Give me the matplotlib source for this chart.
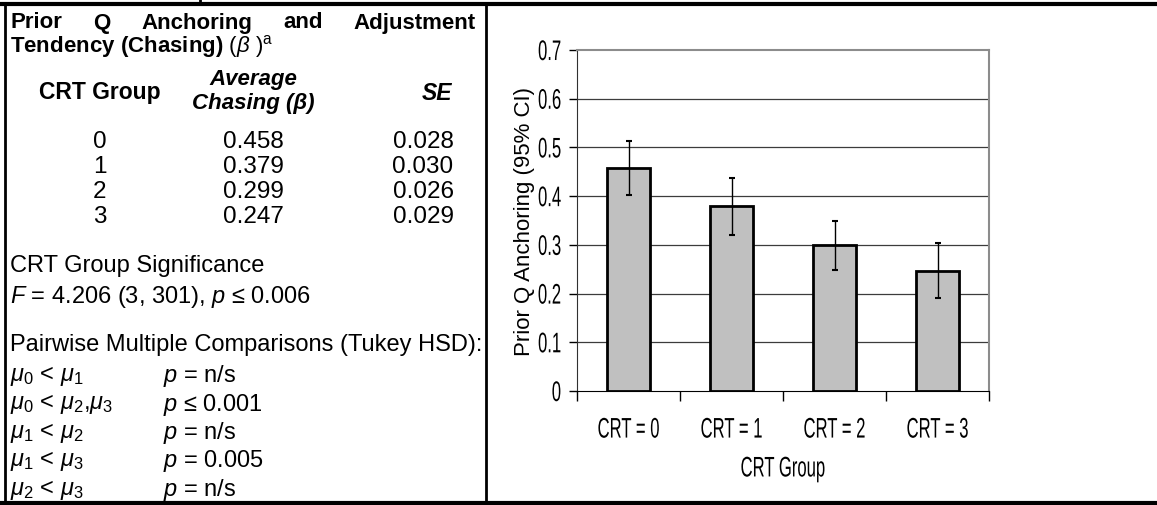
import matplotlib
matplotlib.use('Agg')
import matplotlib.pyplot as plt
from matplotlib.lines import Line2D
from matplotlib.patheffects import AbstractPathEffect
from matplotlib.transforms import Affine2D
import numpy as np

groups = ['0', '1', '2', '3']
avg_chasing = [0.458, 0.379, 0.299, 0.247]
se = [0.028, 0.030, 0.026, 0.029]
se_labels = ['0.028', '0.030', '0.026', '0.029']
categories = ['CRT = 0', 'CRT = 1', 'CRT = 2', 'CRT = 3']
comparisons = [r'$\mu_0$ < $\mu_1$', r'$\mu_0$ < $\mu_2$,$\mu_3$', r'$\mu_1$ < $\mu_2$',
               r'$\mu_1$ < $\mu_3$', r'$\mu_2$ < $\mu_3$']
p_values = [r'$p$ = n/s', r'$p$ ≤ 0.001', r'$p$ = n/s', r'$p$ = 0.005', r'$p$ = n/s']
yticks = [0, 0.1, 0.2, 0.3, 0.4, 0.5, 0.6, 0.7]
ytick_labels = ['0', '0.1', '0.2', '0.3', '0.4', '0.5', '0.6', '0.7']

# 95% CI half width from the SE column
ci = [1.96 * s for s in se]

plt.rcParams['font.family'] = ['Liberation Sans', 'DejaVu Sans']
plt.rcParams['mathtext.fontset'] = 'custom'
plt.rcParams['mathtext.rm'] = 'Liberation Sans'
plt.rcParams['mathtext.it'] = 'Liberation Sans:italic'
plt.rcParams['mathtext.bf'] = 'Liberation Sans:bold'


class Stretch(AbstractPathEffect):
    # make glyphs taller around their middle -> narrow "Arial Narrow" look
    def __init__(self, sy=1.5):
        super().__init__()
        self.sy = sy

    def draw_path(self, renderer, gc, tpath, affine, rgbFace=None):
        ext = tpath.get_extents()
        cy = 0.5 * (ext.y0 + ext.y1)
        st = Affine2D().translate(0, -cy).scale(1, self.sy).translate(0, cy)
        renderer.draw_path(gc, tpath, st + affine, rgbFace)


W, H = 1157, 506
fig = plt.figure(figsize=(W / 100, H / 100), dpi=100)


def fx(px):
    return px / W


def fy(py):
    return 1 - py / H


def ftext(x, y, s, **kw):
    kw.setdefault('va', 'center')
    kw.setdefault('fontsize', 17)
    return fig.text(fx(x), fy(y), s, **kw)


# table frame
for xs, ys, lw in [((0, W), (5, 5), 3), ((0, W), (504, 504), 3),
                   ((5, 5), (5, 506), 2), ((486, 486), (5, 506), 2),
                   ((200, 200), (0, 5), 2)]:
    fig.add_artist(Line2D([fx(x) for x in xs], [fy(y) for y in ys],
                          color='black', lw=lw, transform=fig.transFigure))

# justified title line
renderer = fig.canvas.get_renderer()
words = ['Prior', 'Q', 'Anchoring', 'and', 'Adjustment']
wtexts = [ftext(0, 23, w, fontsize=16, fontweight='bold') for w in words]
widths = [t.get_window_extent(renderer).width for t in wtexts]
left, right = 10, 476
gap = (right - left - sum(widths)) / (len(words) - 1)
x = left
for t, w in zip(wtexts, widths):
    t.set_x(fx(x))
    x += w + gap

ftext(10, 47, r'$\mathbf{Tendency\ (Chasing)}\ (\beta\ )^{\mathrm{a}}$', fontsize=16)

# column headers
ftext(100, 93, 'CRT Group', ha='center', fontsize=16.5, fontweight='bold')
ftext(253, 79, 'Average', ha='center', fontsize=16, fontweight='bold', style='italic')
ftext(253, 104, 'Chasing (β)', ha='center', fontsize=16, fontweight='bold', style='italic')
ftext(437, 93, 'SE', ha='center', fontsize=16.5, fontweight='bold', style='italic')

row_y = [142, 167, 192, 217]
for g, a, s, yy in zip(groups, avg_chasing, se_labels, row_y):
    ftext(100, yy, g, ha='center', fontsize=17.5)
    ftext(253, yy, f'{a:.3f}', ha='center', fontsize=17.5)
    ftext(423, yy, s, ha='center', fontsize=17.5)

ftext(10, 266, 'CRT Group Significance')
ftext(10, 297, r'$F$ = 4.206 (3, 301), $p$ ≤ 0.006')
ftext(10, 345, 'Pairwise Multiple Comparisons (Tukey HSD):')
for i, (c, p) in enumerate(zip(comparisons, p_values)):
    yy = 376 + i * 28.5
    ftext(10, yy, c)
    ftext(163, yy, p)

# bar chart
ax = fig.add_axes([fx(577), fy(392), fx(989) - fx(577), fy(51) - fy(392)])
xpos = np.arange(len(categories))
ax.bar(xpos, avg_chasing, width=0.41, color='#c0c0c0', edgecolor='black',
       linewidth=2, zorder=3)
ax.errorbar(xpos, avg_chasing, yerr=ci, fmt='none', ecolor='black',
            elinewidth=1, capsize=2.5, capthick=1.5, zorder=4)

ax.set_xlim(-0.5, 3.5)
ax.set_ylim(0, 0.7)
ax.set_yticks(yticks)
ax.set_yticklabels(ytick_labels)
for yv in yticks[1:-1]:
    ax.axhline(yv, color='#3c3c3c', lw=0.9, zorder=1)

ax.set_xticks(xpos)
ax.set_xticklabels(categories)
ax.set_xticks(np.arange(-0.5, 4, 1), minor=True)
ax.tick_params(axis='x', which='major', length=0, pad=22)
ax.tick_params(axis='x', which='minor', length=7, width=1, direction='out')
ax.tick_params(axis='y', length=6, width=1, direction='out', pad=5.5)

chart_fs = 12
tall = Stretch(1.7)
for lab in ax.get_xticklabels() + ax.get_yticklabels():
    lab.set_fontsize(chart_fs)
    lab.set_path_effects([tall])

ax.set_xlabel('CRT Group', fontsize=chart_fs, va='center', path_effects=[tall])
ax.xaxis.set_label_coords(0.5, -0.229)
ax.set_ylabel('Prior Q Anchoring (95% CI)', fontsize=16, va='center')
ax.yaxis.set_label_coords(-0.127, 0.5)

ax.spines['top'].set_color('#8c8c8c')
ax.spines['top'].set_linewidth(1.5)
ax.spines['right'].set_color('#8c8c8c')
ax.spines['right'].set_linewidth(1.5)
ax.spines['left'].set_color('#303030')
ax.spines['bottom'].set_color('black')

fig.savefig('out.png', dpi=100)
